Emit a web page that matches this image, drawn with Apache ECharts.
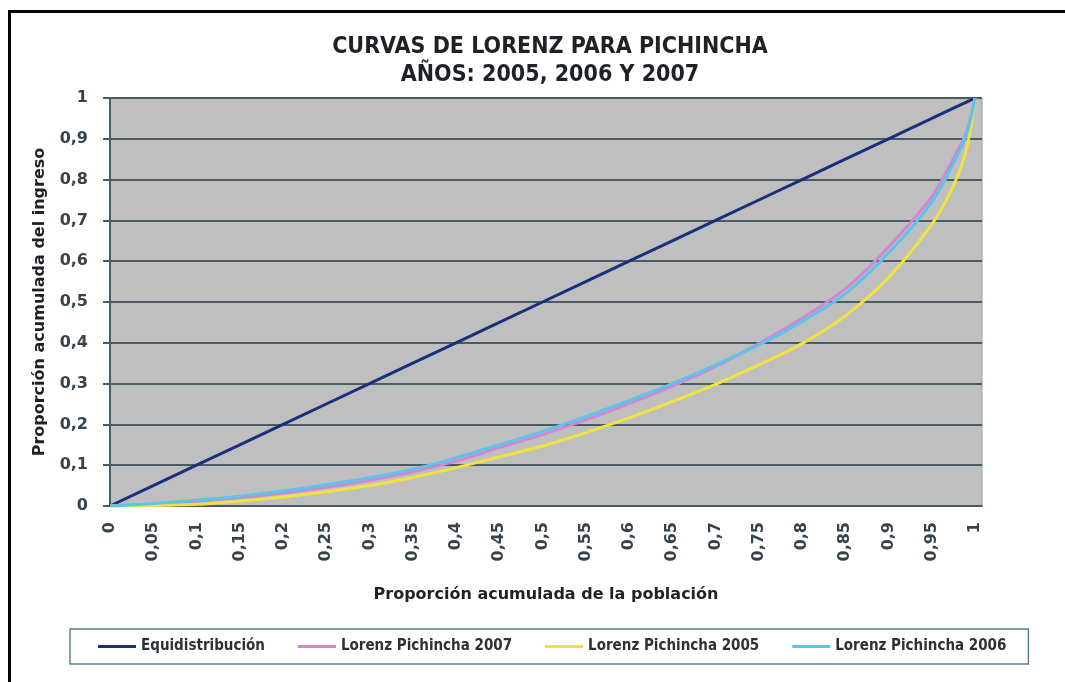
<!DOCTYPE html>
<html lang="es">
<head>
    <meta charset="utf-8"/>
    <title>Curvas de Lorenz</title>
    <script src="https://cdn.jsdelivr.net/npm/echarts@6/dist/echarts.min.js"></script>
    <style>
        html, body { margin: 0; padding: 0; background: #fff; overflow: hidden; }
        #chart { width: 1065px; height: 682px; }
        .borde { position: absolute; background: #000; pointer-events: none; }
        #borde-sup { left: 8px; top: 10px; width: 1057px; height: 3px; }
        #borde-izq { left: 8px; top: 10px; width: 3px; height: 672px; }
    </style>
</head>
<body>
<div id="chart"></div>
<div class="borde" id="borde-sup"></div>
<div class="borde" id="borde-izq"></div>
<script type="text/javascript">
    // proporcion acumulada de la poblacion
    var poblacion = [0, 0.05, 0.1, 0.15, 0.2, 0.25, 0.3, 0.35, 0.4, 0.45, 0.5, 0.55, 0.6, 0.65, 0.7, 0.75, 0.8, 0.85, 0.9, 0.95, 0.975, 0.99, 1];
    // proporcion acumulada del ingreso
    var equidistribucion = [0, 0.05, 0.1, 0.15, 0.2, 0.25, 0.3, 0.35, 0.4, 0.45, 0.5, 0.55, 0.6, 0.65, 0.7, 0.75, 0.8, 0.85, 0.9, 0.95, 0.975, 0.99, 1];
    var lorenz2007 = [0, 0.004, 0.011, 0.02, 0.032, 0.046, 0.063, 0.084, 0.11, 0.143, 0.175, 0.211, 0.251, 0.294, 0.342, 0.398, 0.46, 0.532, 0.635, 0.758, 0.852, 0.916, 1];
    var lorenz2005 = [0, 0.001, 0.004, 0.012, 0.022, 0.035, 0.05, 0.07, 0.094, 0.12, 0.147, 0.18, 0.216, 0.256, 0.298, 0.346, 0.398, 0.466, 0.56, 0.69, 0.785, 0.875, 1];
    var lorenz2006 = [0, 0.006, 0.014, 0.024, 0.037, 0.052, 0.069, 0.09, 0.118, 0.15, 0.183, 0.219, 0.258, 0.3, 0.346, 0.395, 0.452, 0.52, 0.62, 0.745, 0.84, 0.91, 1];

    var nombres = ['Equidistribución', 'Lorenz Pichincha 2007', 'Lorenz Pichincha 2005', 'Lorenz Pichincha 2006'];
    var colores = ['#1b2f7c', '#d286d2', '#f0e43c', '#5cc3ea'];

    function pares(ys) {
        var out = [];
        for (var i = 0; i < poblacion.length; i++) {
            out.push([poblacion[i], ys[i]]);
        }
        return out;
    }

    function coma(v) {
        return String(+v.toFixed(2)).replace('.', ',');
    }

    var ejeColor = '#4b5b63';
    var textoColor = '#36434b';
    var estrecha = '"Liberation Sans Narrow", "DejaVu Sans Condensed", sans-serif';

    var myChart = echarts.init(document.getElementById('chart'));
    var datos = [equidistribucion, lorenz2007, lorenz2005, lorenz2006];
    var series = [];
    for (var s = 0; s < datos.length; s++) {
        series.push({
            name: nombres[s],
            type: 'line',
            data: pares(datos[s]),
            showSymbol: false,
            smooth: s === 0 ? false : 0.3,
            lineStyle: {width: 3, color: colores[s]},
            itemStyle: {color: colores[s]}
        });
    }

    var option = {
        animation: false,
        //titulo
        title: {
            text: 'CURVAS DE LORENZ PARA PICHINCHA\nAÑOS: 2005, 2006 Y 2007',
            left: 545,
            top: 28,
            textAlign: 'center',
            textStyle: {
                fontFamily: estrecha,
                fontSize: 23,
                fontWeight: 'bold',
                color: '#1e2226',
                lineHeight: 28
            }
        },
        //leyenda
        legend: {
            data: nombres,
            left: 70,
            top: 629,
            width: 1000,
            icon: 'rect',
            itemWidth: 38,
            itemHeight: 3,
            itemGap: 33,
            padding: [10, 22, 10, 28],
            borderColor: '#5f7f8c',
            borderWidth: 1.5,
            textStyle: {
                fontFamily: estrecha,
                fontSize: 15,
                fontWeight: 'bold',
                color: '#2a3238'
            }
        },
        grid: {
            left: 110,
            right: 83,
            top: 98,
            bottom: 176,
            show: true,
            backgroundColor: '#bfbfbf',
            borderColor: '#8ea3ab',
            borderWidth: 1
        },
        //eje x
        xAxis: {
            type: 'value',
            min: 0,
            max: 1.008,
            interval: 0.05,
            name: 'Proporción acumulada de la población',
            nameLocation: 'middle',
            nameGap: 81,
            nameTextStyle: {
                fontFamily: 'DejaVu Sans',
                fontSize: 16,
                fontWeight: 'bold',
                color: '#1e2226'
            },
            axisLine: {lineStyle: {color: ejeColor, width: 2}},
            axisTick: {show: false},
            splitLine: {show: false},
            axisLabel: {
                rotate: 90,
                margin: 16,
                padding: [10, 0, 0, 0],
                fontFamily: 'DejaVu Sans',
                fontSize: 16,
                fontWeight: 'bold',
                color: textoColor,
                formatter: function (v) {
                    return v > 1.0001 ? '' : coma(v);
                }
            }
        },
        //eje y
        yAxis: {
            type: 'value',
            min: 0,
            max: 1,
            interval: 0.1,
            name: 'Proporción acumulada del ingreso',
            nameLocation: 'middle',
            nameGap: 62,
            nameTextStyle: {
                fontFamily: 'DejaVu Sans',
                fontSize: 16,
                fontWeight: 'bold',
                color: '#1e2226'
            },
            axisLine: {show: true, lineStyle: {color: ejeColor, width: 2}},
            axisTick: {show: true, length: 7, lineStyle: {color: ejeColor, width: 2}},
            splitLine: {lineStyle: {color: ejeColor, width: 2}},
            axisLabel: {
                margin: 22,
                fontFamily: 'DejaVu Sans',
                fontSize: 16,
                fontWeight: 'bold',
                color: textoColor,
                formatter: function (v) {
                    return coma(v);
                }
            }
        },
        series: series
    };
    myChart.setOption(option);
</script>
</body>
</html>
